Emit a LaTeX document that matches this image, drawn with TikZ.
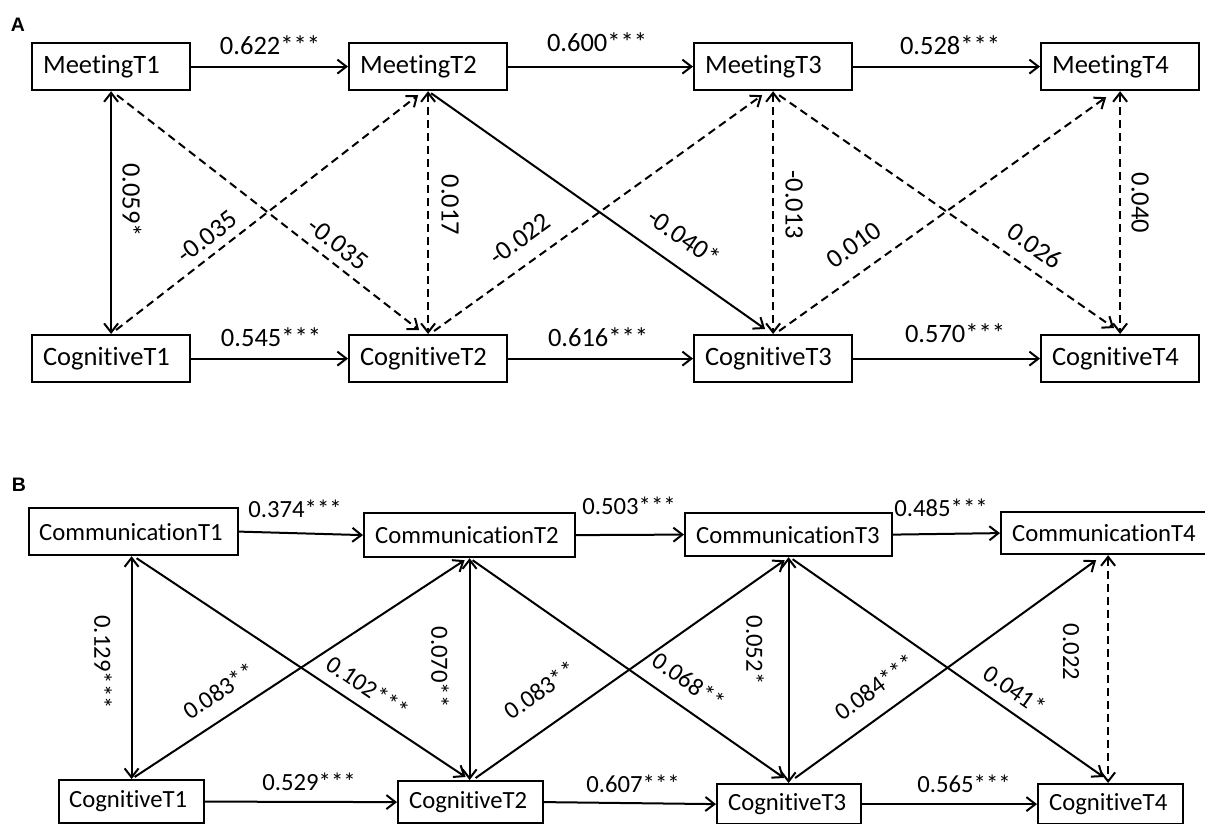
\documentclass[tikz,border=0pt]{standalone}
\usepackage{fontspec}
\setmainfont{Carlito}[Ligatures=NoCommon]
\newfontfamily\panelfont{Liberation Sans}
\usetikzlibrary{arrows.meta}
\begin{document}
\begin{tikzpicture}[x=1pt,y=-1pt,
  fA/.style={font=\fontsize{26.5}{30}\selectfont},
  fB/.style={font=\fontsize{24.7}{28}\selectfont},
  bx/.style={draw, line width=2.2pt, anchor=north west, inner xsep=11pt, inner ysep=0pt, align=left},
  lab/.style={inner sep=0pt},
  conn/.style={line width=2pt},
  dsh/.style={dash pattern=on 8pt off 5pt},
  arr/.style={conn, -{Straight Barb[length=9pt,width=14pt]}},
  darr/.style={conn, {Straight Barb[length=9pt,width=14pt]}-{Straight Barb[length=9pt,width=14pt]}},
  panel/.style={inner sep=0pt, font=\panelfont\bfseries\fontsize{19.5}{22}\selectfont}
]
\useasboundingbox (0,0) rectangle (1205,823);
\fill[white] (0,0) rectangle (1205,823);

% ---------------- Panel A ----------------
\node[panel] (pA) at (18,25) {A};
\node[bx, fA, text width=136pt, minimum height=47pt] (m1) at (31,42) {MeetingT1};
\node[bx, fA, text width=136pt, minimum height=47pt] (m2) at (348,42) {MeetingT2};
\node[bx, fA, text width=136pt, minimum height=47pt] (m3) at (693,42) {MeetingT3};
\node[bx, fA, text width=136pt, minimum height=47pt] (m4) at (1040,42) {MeetingT4};
\node[bx, fA, text width=136pt, minimum height=47pt] (c1) at (31,334) {CognitiveT1};
\node[bx, fA, text width=136pt, minimum height=47pt] (c2) at (348,334) {CognitiveT2};
\node[bx, fA, text width=136pt, minimum height=47pt] (c3) at (693,334) {CognitiveT3};
\node[bx, fA, text width=136pt, minimum height=47pt] (c4) at (1040,334) {CognitiveT4};

\draw[arr] (m1.east) -- (m2.west);
\draw[arr] (m2.east) -- (m3.west);
\draw[arr] (m3.east) -- (m4.west);
\draw[arr] (c1.east) -- (c2.west);
\draw[arr] (c2.east) -- (c3.west);
\draw[arr] (c3.east) -- (c4.west);

\draw[darr] (m1.south) -- (c1.north);
\draw[darr, dsh] (m2.south) -- (c2.north);
\draw[darr, dsh] (m3.south) -- (c3.north);
\draw[darr, dsh] (m4.south) -- (c4.north);

\draw[arr, dsh] ([shift={(5,-4)}]c1.north) -- ([shift={(-10,4)}]m2.south);
\draw[arr, dsh] ([shift={(6,4)}]m1.south) -- ([shift={(-9,-4)}]c2.north);
\draw[arr, dsh] ([shift={(6,-3)}]c2.north) -- ([shift={(-11,4)}]m3.south);
\draw[arr] ([shift={(3,2)}]m2.south) -- ([shift={(-8,-5)}]c3.north);
\draw[arr, dsh] ([shift={(6,-3)}]c3.north) -- ([shift={(-14,6)}]m4.south);
\draw[arr, dsh] ([shift={(6,4)}]m3.south) -- ([shift={(-6,-6)}]c4.north);

\node[lab, fA] (a12) at (270,45) {0.622***};
\node[lab, fA] (a23) at (597,42) {0.600***};
\node[lab, fA] (a34) at (950,45) {0.528***};
\node[lab, fA] (b12) at (271,337) {0.545***};
\node[lab, fA] (b23) at (598,337) {0.616***};
\node[lab, fA] (b34) at (955,333) {0.570***};
\node[lab, fA, rotate=-90] (v1) at (132,200) {0.059*};
\node[lab, fA, rotate=-90] (v2) at (450,205) {0.017};
\node[lab, fA, rotate=-90] (v3) at (794,205) {-0.013};
\node[lab, fA, rotate=-90] (v4) at (1140,203) {0.040};
\node[lab, fA, rotate=38] (x1) at (207,237) {-0.035};
\node[lab, fA, rotate=-38] (x2) at (338,244) {-0.035};
\node[lab, fA, rotate=36] (x3) at (520,239) {-0.022};
\node[lab, fA, rotate=-35] (x4) at (684,237) {-0.040*};
\node[lab, fA, rotate=36] (x5) at (854,245) {0.010};
\node[lab, fA, rotate=-35] (x6) at (1035,246) {0.026};

% ---------------- Panel B ----------------
\node[panel] (pB) at (19,485) {B};
\node[bx, fB, inner xsep=10pt, text width=189pt, minimum height=47pt] (k1) at (28,507) {CommunicationT1};
\node[bx, fB, text width=189pt, minimum height=44pt] (k2) at (363,512) {CommunicationT2};
\node[bx, fB, text width=185pt, minimum height=43pt] (k3) at (684,512) {CommunicationT3};
\node[bx, fB, text width=192pt, minimum height=42pt] (k4) at (1000,511) {CommunicationT4};
\node[bx, fB, inner xsep=10pt, text width=125pt, minimum height=43pt] (g1) at (58,779) {CognitiveT1};
\node[bx, fB, text width=123pt, minimum height=42pt] (g2) at (397,780) {CognitiveT2};
\node[bx, fB, text width=122pt, minimum height=40pt] (g3) at (716,783) {CognitiveT3};
\node[bx, fB, text width=123pt, minimum height=40pt] (g4) at (1037,783) {CognitiveT4};

\draw[arr] (k1.east) -- (k2.west);
\draw[arr] (k2.east) -- (k3.west);
\draw[arr] (k3.east) -- (k4.west);
\draw[arr] (g1.east) -- (g2.west);
\draw[arr] (g2.east) -- (g3.west);
\draw[arr] (g3.east) -- (g4.west);

\draw[darr] (g1.north |- k1.south) -- (g1.north);
\draw[darr] (k2.south) -- (k2.south |- g2.north);
\draw[darr] (k3.south) -- (k3.south |- g3.north);
\draw[darr, dsh] (k4.south) -- (k4.south |- g4.north);

\draw[arr] ([shift={(3,2)}]k1.south) -- ([shift={(-5,-3)}]g2.north);
\draw[arr] ([shift={(3,-2)}]g1.north) -- ([shift={(-5,2)}]k2.south);
\draw[arr] ([shift={(3,2)}]k2.south) -- ([shift={(-5,-5)}]g3.north);
\draw[arr] ([shift={(5,-2)}]g2.north) -- ([shift={(-4,3)}]k3.south);
\draw[arr] ([shift={(4,2)}]k3.south) -- ([shift={(-7,-6)}]g4.north);
\draw[arr] ([shift={(6,-5)}]g3.north) -- ([shift={(-12,5)}]k4.south);

\node[lab, fB] (c12) at (295,509) {0.374***};
\node[lab, fB] (c23) at (629,506) {0.503***};
\node[lab, fB] (c34) at (941,508) {0.485***};
\node[lab, fB] (d12) at (309,782) {0.529***};
\node[lab, fB] (d23) at (633,784) {0.607***};
\node[lab, fB] (d34) at (964,784) {0.565***};
\node[lab, fB, rotate=-90] (w1) at (103,662) {0.129***};
\node[lab, fB, rotate=-90] (w2) at (440,667) {0.070**};
\node[lab, fB, rotate=-90] (w3) at (755,650) {0.052*};
\node[lab, fB, rotate=-90] (w4) at (1071,652) {0.022};
\node[lab, fB, rotate=34] (y1) at (219,691) {0.083**};
\node[lab, fB, rotate=-34] (y2) at (368,687) {0.102***};
\node[lab, fB, rotate=35] (y3) at (540,690) {0.083**};
\node[lab, fB, rotate=-35] (y4) at (689,681) {0.068**};
\node[lab, fB, rotate=36] (y5) at (875,687) {0.084***};
\node[lab, fB, rotate=-35] (y6) at (1015,690) {0.041*};
\end{tikzpicture}
\end{document}
